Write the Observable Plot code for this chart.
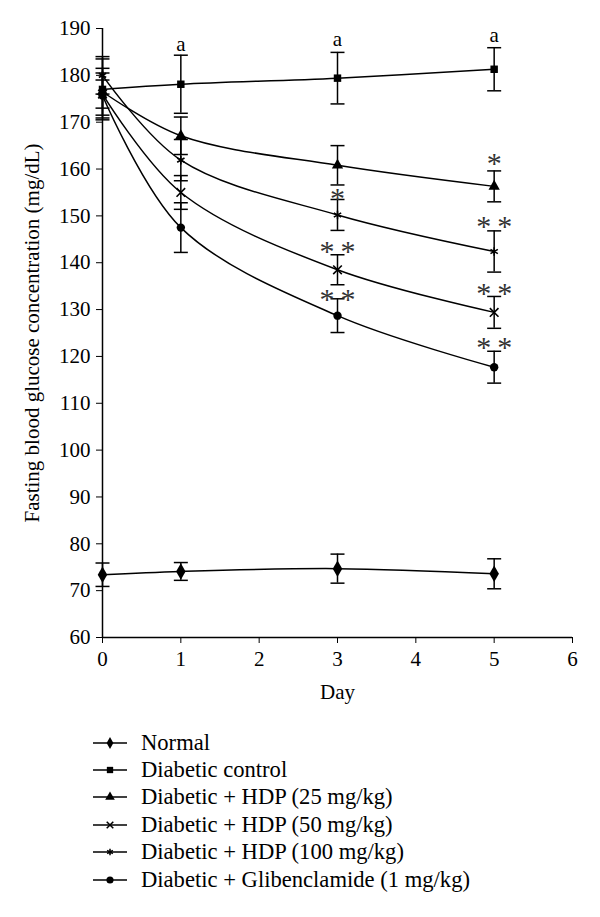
<!DOCTYPE html>
<html>
<head>
<meta charset="utf-8">
<script src="https://cdn.jsdelivr.net/npm/d3@7"></script>
<script src="https://cdn.jsdelivr.net/npm/@observablehq/plot@0.6"></script>
<style>
  body { margin: 0; background: #fff; font-family: "Liberation Serif", serif; }
  #legend { margin-top: 19px; }
  .row { display: flex; align-items: center; height: 27.4px; font-size: 22.6px; color: #000; }
  .row svg { margin-left: 93px; margin-right: 14px; }
</style>
</head>
<body>
<div id="chart"></div>
<div id="legend"></div>
<script>
const days = [0, 1, 3, 5];
const seriesNames = [
  "Normal",
  "Diabetic control",
  "Diabetic + HDP (25 mg/kg)",
  "Diabetic + HDP (50 mg/kg)",
  "Diabetic + HDP (100 mg/kg)",
  "Diabetic + Glibenclamide (1 mg/kg)"
];
const normalMean  = [73.4, 74.1, 74.7, 73.6];
const normalSE    = [2.5, 1.9, 3.1, 3.2];
const controlMean = [177.0, 178.1, 179.4, 181.3];
const controlSE   = [6.5, 6.2, 5.5, 4.6];
const hdp25Mean   = [176.5, 167.1, 160.8, 156.3];
const hdp25SE     = [5.0, 4.0, 4.2, 3.3];
const hdp50Mean   = [176.0, 155.0, 138.5, 129.4];
const hdp50SE     = [3.0, 3.6, 3.2, 3.4];
const hdp100Mean  = [180.0, 161.9, 150.2, 142.4];
const hdp100SE    = [4.0, 4.4, 3.3, 4.4];
const glibenMean  = [175.7, 147.5, 128.7, 117.7];
const glibenSE    = [4.8, 5.3, 3.6, 3.4];

const annotDays   = [1, 3, 5, 3, 3, 3, 5, 5, 5, 5];
const annotValues = [186.6, 187.8, 188.5, 155.0, 143.7, 133.5, 162.5, 149.0, 134.8, 123.3];
const annotLabels = ["a", "a", "a", "*", "*\u2009*", "*\u2009*", "*", "*\u2009*", "*\u2009*", "*\u2009*"];

const yTicks = [60, 70, 80, 90, 100, 110, 120, 130, 140, 150, 160, 170, 180, 190];
const xTicks = [0, 1, 2, 3, 4, 5, 6];

const means = [normalMean, controlMean, hdp25Mean, hdp50Mean, hdp100Mean, glibenMean];
const ses = [normalSE, controlSE, hdp25SE, hdp50SE, hdp100SE, glibenSE];
const symbols = ["diamond", "square", "triangle", "times", "asterisk", "circle"];
const filled = [true, true, true, false, false, true];

const rows = [];
seriesNames.forEach((name, i) => {
  days.forEach((d, j) => {
    rows.push({series: name, idx: i, day: d, mean: means[i][j], lo: means[i][j] - ses[i][j], hi: means[i][j] + ses[i][j]});
  });
});
const annots = annotDays.map((d, i) => ({day: d, value: annotValues[i], label: annotLabels[i]}));

const capSymbol = {
  draw(ctx, size) { ctx.moveTo(-7, 0); ctx.lineTo(7, 0); }
};

const marks = [];
seriesNames.forEach((name, i) => {
  marks.push(Plot.line(rows.filter(r => r.idx === i), {x: "day", y: "mean", curve: "catmull-rom", stroke: "black", strokeWidth: 1.5}));
});
marks.push(Plot.ruleX(rows, {x: "day", y1: "lo", y2: "hi", stroke: "black", strokeWidth: 1.5}));
marks.push(Plot.dot(rows, {x: "day", y: "lo", symbol: () => capSymbol, stroke: "black", strokeWidth: 1.5}));
marks.push(Plot.dot(rows, {x: "day", y: "hi", symbol: () => capSymbol, stroke: "black", strokeWidth: 1.5}));
seriesNames.forEach((name, i) => {
  const data = rows.filter(r => r.idx === i);
  if (filled[i]) {
    marks.push(Plot.dot(data, {x: "day", y: "mean", symbol: symbols[i], fill: "black", r: i === 0 ? 5 : 4.2}));
  } else {
    marks.push(Plot.dot(data, {x: "day", y: "mean", symbol: symbols[i], stroke: "black", strokeWidth: 1.6, r: 4}));
  }
});
marks.push(Plot.text(annots.filter(a => a.label === "a"), {x: "day", y: "value", text: "label", fontSize: 21, fill: "black"}));
marks.push(Plot.text(annots.filter(a => a.label !== "a"), {x: "day", y: "value", text: "label", fontSize: 30, dy: 6, fill: "#333"}));
marks.push(Plot.axisY({ticks: yTicks, tickSize: 6, tickPadding: 6, label: "Fasting blood glucose concentration (mg/dL)", labelAnchor: "center", labelArrow: "none", labelOffset: 78, fontSize: 21}));
marks.push(Plot.axisX({ticks: xTicks, tickFormat: "d", tickSize: 6, tickPadding: 8, label: "Day", labelAnchor: "center", labelArrow: "none", labelOffset: 61, fontSize: 21}));
marks.push(Plot.ruleX([0], {stroke: "black", strokeWidth: 1.5}));
marks.push(Plot.ruleY([60], {stroke: "black", strokeWidth: 1.5}));

const chart = Plot.plot({
  width: 600,
  height: 710,
  marginLeft: 102,
  marginRight: 28,
  marginTop: 28,
  marginBottom: 73,
  x: {domain: [0, 6]},
  y: {domain: [60, 190]},
  style: {fontFamily: "Liberation Serif, serif", fontSize: "20px", color: "black", background: "white"},
  marks
});
document.getElementById("chart").appendChild(chart);

// legend
const legend = d3.select("#legend");
seriesNames.forEach((name, i) => {
  const row = legend.append("div").attr("class", "row");
  const svg = row.append("svg").attr("width", 34).attr("height", 14);
  svg.append("line").attr("x1", 0).attr("x2", 34).attr("y1", 7).attr("y2", 7).attr("stroke", "black").attr("stroke-width", 1.5);
  const sym = {diamond: d3.symbolDiamond, square: d3.symbolSquare, triangle: d3.symbolTriangle, times: d3.symbolTimes, asterisk: d3.symbolAsterisk, circle: d3.symbolCircle}[symbols[i]];
  const path = svg.append("path").attr("transform", "translate(17,7)").attr("d", d3.symbol(sym, filled[i] ? 40 : 30)());
  if (filled[i]) path.attr("fill", "black"); else path.attr("fill", "none").attr("stroke", "black").attr("stroke-width", 1.5);
  row.append("span").text(name);
});
</script>
</body>
</html>
